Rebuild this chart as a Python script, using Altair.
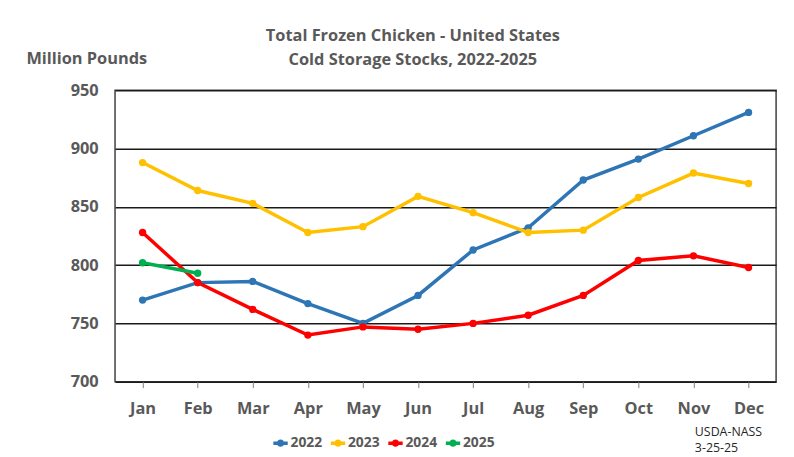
import altair as alt
import pandas as pd

months = ["Jan", "Feb", "Mar", "Apr", "May", "Jun", "Jul", "Aug", "Sep", "Oct", "Nov", "Dec"]
years = ["2022", "2023", "2024", "2025"]
colors = ["#2E75B6", "#FFC000", "#FF0000", "#00B050"]
s2022 = [770, 785, 786, 767, 750, 774, 813, 832, 873, 891, 911, 931]
s2023 = [888, 864, 853, 828, 833, 859, 845, 828, 830, 858, 879, 870]
s2024 = [828, 785, 762, 740, 747, 745, 750, 757, 774, 804, 808, 798]
s2025 = [802, 793]
y_ticks = [700, 750, 800, 850, 900, 950]
title_lines = ["Total Frozen Chicken - United States", "Cold Storage Stocks, 2022-2025"]
y_title = "Million Pounds"
note = "USDA-NASS\n3-25-25"

rows = []
for yr, ser in zip(years, [s2022, s2023, s2024, s2025]):
    for m, v in zip(months, ser):
        rows.append({"month": m, "year": yr, "value": v})
df = pd.DataFrame(rows)

FONT = "Open Sans"
GRAY = "#595959"

x_enc = alt.X("month:O", sort=months, scale=alt.Scale(type="point", padding=0.5),
              axis=alt.Axis(title=None, labelAngle=0, domain=False, ticks=True, tickColor="#808080",
                            tickSize=6, labelFontSize=16.5, labelFontWeight="bold", labelColor=GRAY,
                            labelPadding=13, grid=False, labelFont=FONT))
y_enc = alt.Y("value:Q", scale=alt.Scale(domain=[700, 950], nice=False, zero=False),
              axis=alt.Axis(values=y_ticks, title=y_title, titleAngle=0, titleX=-29, titleY=-32,
                            titleAlign="center", titleBaseline="middle", titleFontSize=16.5,
                            titleFontWeight="bold", titleColor=GRAY, titleFont=FONT,
                            domain=False, ticks=False, grid=True, gridColor="#1a1a1a", gridWidth=1.5,
                            labelFontSize=16.5, labelFontWeight="bold", labelColor=GRAY,
                            labelPadding=17, labelFont=FONT))
color_enc = alt.Color("year:N", scale=alt.Scale(domain=years, range=colors),
                      legend=alt.Legend(title=None, orient="none", direction="horizontal",
                                        legendX=158, legendY=347,
                                        symbolType="M-1,0L1,0M0,-0.27A0.27,0.27 0 1 1 0,0.27A0.27,0.27 0 1 1 0,-0.27",
                                        symbolSize=210, symbolStrokeWidth=3.5,
                                        labelFontSize=14, labelFontWeight="bold", labelColor=GRAY,
                                        labelFont=FONT, labelOffset=1, columnPadding=0))

base = alt.Chart(df).encode(x=x_enc, y=y_enc, color=color_enc)
lines = base.mark_line(strokeWidth=3.5)
points = base.mark_point(filled=True, size=55, opacity=1)

note_layer = alt.Chart(pd.DataFrame({"note": [note]})).mark_text(
    align="left", baseline="top", lineBreak="\n", fontSize=12.5, lineHeight=16,
    font=FONT, color="#262626"
).encode(x=alt.value(585), y=alt.value(339), text="note:N")

chart = alt.layer(lines, points, note_layer).properties(
    width=667, height=294,
    title=alt.TitleParams(title_lines, anchor="middle", dx=-33, dy=34, fontSize=16.5, fontWeight="bold",
                          color=GRAY, font=FONT, lineHeight=24, offset=16),
    padding={"left": 108, "top": 81, "right": 10, "bottom": 78},
    autosize=alt.AutoSizeParams(type="none"),
    background="white",
).configure_view(stroke="#404040", strokeWidth=1.5)

chart.save("out.html", embed_options={"renderer": "svg", "actions": False})
